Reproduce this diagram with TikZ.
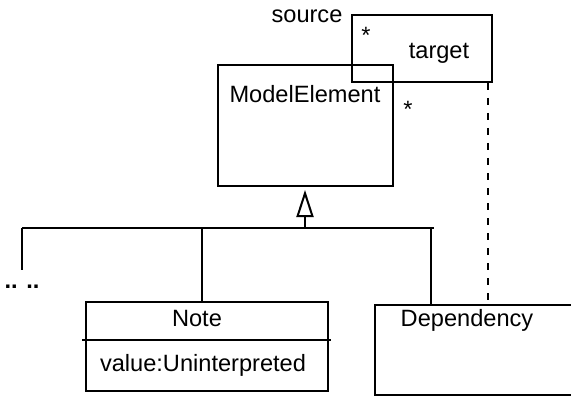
\documentclass[tikz,border=0pt]{standalone}
\usepackage{fontspec}
\setmainfont{Liberation Sans}
\usetikzlibrary{arrows.meta}
\begin{document}
\begin{tikzpicture}[x=0.5pt,y=-0.5pt, line width=1pt,
  box/.style={draw, rectangle, inner sep=0pt, anchor=north west},
  lbl/.style={inner sep=0pt, anchor=base, font=\fontsize{11.8}{14}\selectfont},
  depline/.style={dash pattern=on 3.5pt off 4pt}]
\useasboundingbox (0,0) rectangle (571,395);
\clip (0,0) rectangle (571,395);
% boxes
\node[box, minimum width=70pt, minimum height=33.5pt] (tgt) at (351,14) {};
\node[box, minimum width=87.5pt, minimum height=60.5pt] (me) at (217,64) {};
\node[box, minimum width=121pt, minimum height=44.5pt] (note) at (85,301) {};
\node[box, minimum width=125pt, minimum height=45pt] (dep) at (374,304) {};
% divider of Note
\coordinate (divy) at (0,340);
\draw ([xshift=-1.5pt]note.west |- divy) -- ([xshift=1pt]note.east |- divy);
% labels
\node[lbl] (srcl) at (307,23) {source};
\node[lbl] (s1) at (366,44) {*};
\node[lbl] (tl) at (439,59) {target};
\node[lbl] (mel) at (305,102.5) {ModelElement};
\node[lbl] (s2) at (408,117.5) {*};
\node[lbl] (notel) at (197,326) {Note};
\node[lbl] (vall) at (203,371) {value:Uninterpreted};
\node[lbl] (depl) at (467,326.5) {Dependency};
\node[lbl, font=\fontsize{11.8}{14}\selectfont\bfseries] (dots) at (22,288) {.. ..};
% dependency dashed line
\draw[depline] ([xshift=-2.5pt]tgt.south east) -- ([xshift=-2.5pt]tgt.south east |- dep.north);
% generalization tree
\coordinate (busL) at (22,228);
\coordinate (busR) at (434,228);
\coordinate (busM) at (305,228);
\coordinate (leftend) at (22,270);
\coordinate (bn) at (202,228);
\coordinate (bd) at (431,228);
\draw (busL) -- (busR);
\draw (busL) -- (leftend);
\draw (bn) -- (bn |- note.north);
\draw (bd) -- (bd |- dep.north);
\draw[-{Triangle[open, length=13.5pt, width=8.5pt]}, shorten >=1.5pt] (busM) -- (busM |- me.south);
\end{tikzpicture}
\end{document}
